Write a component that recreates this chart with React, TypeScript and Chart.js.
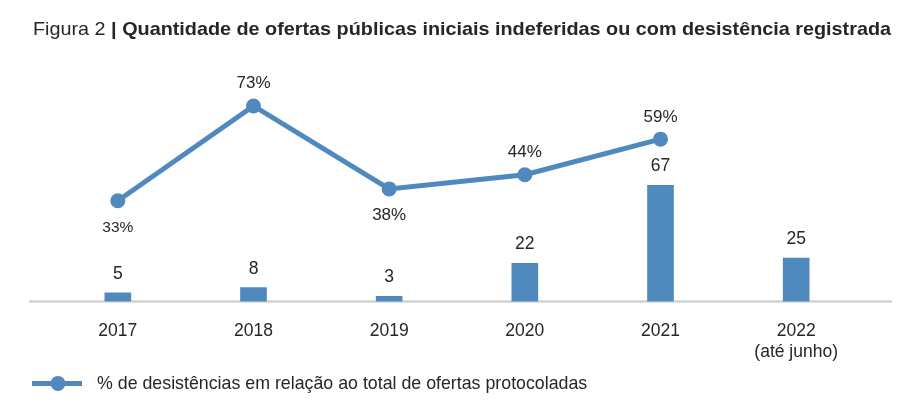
import React, { useEffect, useRef } from "react";
import { Chart, registerables } from "chart.js";

Chart.register(...registerables);

// Categories (years) shown on the horizontal axis
const categories: (string | string[])[] = ["2017", "2018", "2019", "2020", "2021", ["2022", "(até junho)"]];
// Number of IPOs rejected or withdrawn per year
const ofertasIndeferidas = [5, 8, 3, 22, 67, 25];
// Withdrawals as % of filed offerings (no value yet for 2022)
const pctDesistencias: (number | null)[] = [33, 73, 38, 44, 59, null];
// Where each percentage label sits relative to its point
const pctLabelPlacement = ["below", "above", "below", "above", "above", "above"];

const titleRegular = "Figura 2 ";
const titleBold = "| Quantidade de ofertas públicas iniciais indeferidas ou com desistência registrada";
const legendLabel = "% de desistências em relação ao total de ofertas protocoladas";

const BLUE = "#4f89be";
const TEXT = "#262626";
const FONT = "'Liberation Sans', Arial, Helvetica, sans-serif";

const decorations = {
  id: "decorations",
  beforeDatasetsDraw(chart: any) {
    const { ctx, chartArea } = chart;
    ctx.save();
    ctx.strokeStyle = "#c9c9c9";
    ctx.lineWidth = 2;
    ctx.beginPath();
    ctx.moveTo(29, chartArea.bottom);
    ctx.lineTo(892, chartArea.bottom);
    ctx.stroke();
    ctx.restore();
  },
  afterDatasetsDraw(chart: any) {
    const { ctx } = chart;
    ctx.save();
    ctx.fillStyle = TEXT;
    ctx.textAlign = "center";
    ctx.textBaseline = "alphabetic";

    // value labels over the bars
    const barMeta = chart.getDatasetMeta(1);
    ctx.font = `17.5px ${FONT}`;
    barMeta.data.forEach((el: any, i: number) => {
      ctx.fillText(String(ofertasIndeferidas[i]), el.x, el.y - 14);
    });

    // percentage labels around the line points
    const lineMeta = chart.getDatasetMeta(0);
    lineMeta.data.forEach((el: any, i: number) => {
      const v = pctDesistencias[i];
      if (v === null) return;
      const below = pctLabelPlacement[i] === "below";
      ctx.font = `${i === 0 ? 15.5 : 17}px ${FONT}`;
      ctx.fillText(`${v}%`, el.x, below ? el.y + 31.5 : el.y - 17.5);
    });
    ctx.restore();
  },
  afterDraw(chart: any) {
    const { ctx } = chart;
    ctx.save();
    ctx.fillStyle = TEXT;
    ctx.textBaseline = "alphabetic";
    ctx.textAlign = "left";

    // title: regular lead-in followed by bold text, fitted to its span
    const size = 18.5;
    ctx.font = `${size}px ${FONT}`;
    const wReg = ctx.measureText(titleRegular).width;
    ctx.font = `bold ${size}px ${FONT}`;
    const wBold = ctx.measureText(titleBold).width;
    const span = 858;
    const sx = span / (wReg + wBold);
    ctx.save();
    ctx.translate(33, 35);
    ctx.scale(sx, 1);
    ctx.font = `${size}px ${FONT}`;
    ctx.fillText(titleRegular, 0, 0);
    ctx.font = `bold ${size}px ${FONT}`;
    ctx.fillText(titleBold, wReg, 0);
    ctx.restore();

    // legend: line with marker, then label
    const ly = 383.5;
    ctx.strokeStyle = BLUE;
    ctx.lineWidth = 5;
    ctx.beginPath();
    ctx.moveTo(32, ly);
    ctx.lineTo(82, ly);
    ctx.stroke();
    ctx.fillStyle = BLUE;
    ctx.beginPath();
    ctx.arc(58, ly, 7.5, 0, Math.PI * 2);
    ctx.fill();
    ctx.fillStyle = TEXT;
    ctx.font = `17.8px ${FONT}`;
    ctx.fillText(legendLabel, 97, 389);
    ctx.restore();
  },
};

export default function App() {
  const canvasRef = useRef<HTMLCanvasElement>(null);

  useEffect(() => {
    const canvas = canvasRef.current;
    if (!canvas) return;
    const chart = new Chart(canvas, {
      type: "bar",
      data: {
        labels: categories,
        datasets: [
          {
            type: "line",
            label: legendLabel,
            data: pctDesistencias,
            yAxisID: "yPct",
            borderColor: BLUE,
            backgroundColor: BLUE,
            borderWidth: 5,
            pointRadius: 7.5,
            pointHoverRadius: 7.5,
            pointBorderWidth: 0,
            pointBackgroundColor: BLUE,
            tension: 0,
            order: 0,
          },
          {
            type: "bar",
            label: "Ofertas",
            data: ofertasIndeferidas,
            yAxisID: "yQtd",
            backgroundColor: BLUE,
            barThickness: 26,
            order: 1,
          },
        ],
      },
      options: {
        responsive: false,
        animation: false,
        events: [],
        layout: { padding: { top: 50, left: 50, right: 47, bottom: 44.5 } },
        plugins: {
          legend: { display: false },
          title: { display: false },
          tooltip: { enabled: false },
        },
        scales: {
          x: {
            grid: { display: false, drawTicks: false },
            border: { display: false },
            ticks: {
              color: TEXT,
              padding: 19,
              font: { family: FONT, size: 17.5, lineHeight: 1.2 },
              maxRotation: 0,
              autoSkip: false,
            },
            afterFit: (s: any) => {
              s.height = 70;
            },
          },
          yQtd: { display: false, min: 0, max: 145 },
          yPct: { display: false, min: -9.5, max: 96.6 },
        },
      },
      plugins: [decorations],
    });
    return () => chart.destroy();
  }, []);

  return (
    <div style={{ position: "fixed", left: 0, top: 0, width: 911, height: 416, background: "#fff" }}>
      <canvas ref={canvasRef} width={911} height={416} style={{ display: "block" }} />
    </div>
  );
}
